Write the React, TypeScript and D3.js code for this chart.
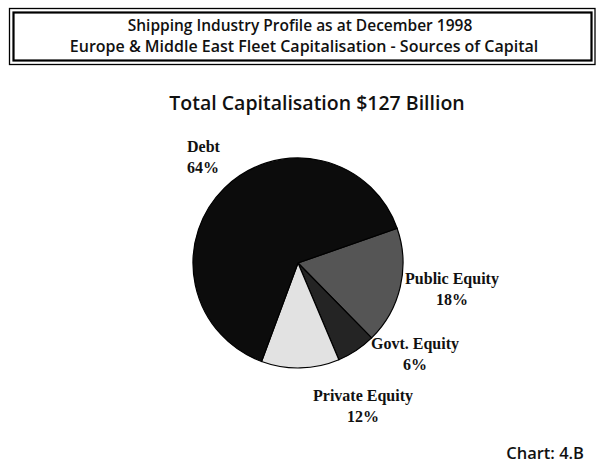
import React from "react";
import * as d3 from "d3";

const categories = ["Public Equity", "Govt. Equity", "Private Equity", "Debt"];
const shares = [18, 6, 12, 64];
const colors = ["#555555", "#242424", "#e2e2e2", "#0c0c0c"];
const titleLines = [
  "Shipping Industry Profile as at December 1998",
  "Europe & Middle East Fleet Capitalisation - Sources of Capital",
];
const subtitle = "Total Capitalisation $127 Billion";
const chartRef = "Chart: 4.B";

const labelPos: { [k: string]: { x: number; y: number; anchor: string } } = {
  "Public Equity": { x: 452, y: 284, anchor: "middle" },
  "Govt. Equity": { x: 415, y: 349, anchor: "middle" },
  "Private Equity": { x: 363, y: 401, anchor: "middle" },
  Debt: { x: 187, y: 152, anchor: "start" },
};

export default function App() {
  const W = 600, H = 467;
  const cx = 298, cy = 263, r = 105;
  const start = (70.7 * Math.PI) / 180;
  const pie = d3
    .pie<number>()
    .sort(null)
    .value((d) => d)
    .startAngle(start)
    .endAngle(start + 2 * Math.PI);
  const arcs = pie(shares);
  const arc = d3.arc<d3.PieArcDatum<number>>().innerRadius(0).outerRadius(r);
  const sans = "'Open Sans', Lato, sans-serif";
  const serif = "'Liberation Serif', 'Times New Roman', serif";
  return (
    <svg
      width={W}
      height={H}
      style={{ position: "absolute", left: 0, top: 0, background: "#fff" }}
    >
      <rect x={9.5} y={8.5} width={585.5} height={56} fill="none" stroke="#000" strokeWidth={1.3} />
      <rect x={13.5} y={12.5} width={578} height={48} fill="none" stroke="#000" strokeWidth={2.2} />
      <text x={300} y={31} textAnchor="middle" fontFamily={sans} fontWeight={600} fontSize={15.5} fill="#111">
        {titleLines[0]}
      </text>
      <text x={304} y={52} textAnchor="middle" fontFamily={sans} fontWeight={600} fontSize={16} fill="#111">
        {titleLines[1]}
      </text>
      <text x={317} y={110} textAnchor="middle" fontFamily={sans} fontWeight={600} fontSize={19.5} fill="#111">
        {subtitle}
      </text>
      <g transform={`translate(${cx},${cy})`}>
        {arcs.map((a, i) => (
          <path key={i} d={arc(a) || ""} fill={colors[i]} stroke="#000" strokeWidth={1.2} />
        ))}
      </g>
      {categories.map((c, i) => {
        const p = labelPos[c];
        return (
          <g key={c}>
            <text x={p.x} y={p.y} textAnchor={p.anchor} fontFamily={serif} fontWeight={700} fontSize={16} fill="#111">
              {c}
            </text>
            <text x={p.x} y={p.y + 21} textAnchor={p.anchor} fontFamily={serif} fontWeight={700} fontSize={16} fill="#111">
              {shares[i] + "%"}
            </text>
          </g>
        );
      })}
      <text x={584} y={459} textAnchor="end" fontFamily={sans} fontWeight={600} fontSize={16.5} fill="#111">
        {chartRef}
      </text>
    </svg>
  );
}
